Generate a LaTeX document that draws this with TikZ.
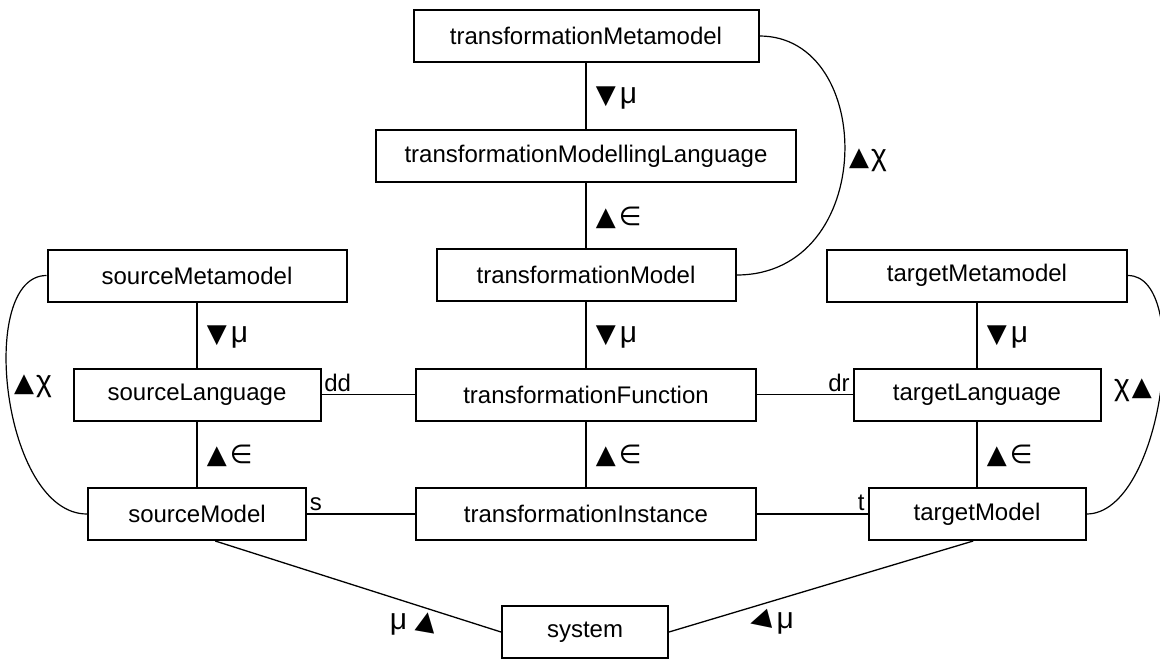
\documentclass[tikz,border=0pt]{standalone}
\usepackage{fontspec}
\setmainfont{Liberation Sans}
\newfontfamily\symfont{DejaVu Sans}
\newcommand{\triDn}{{\symfont\fontsize{26}{28}\selectfont ▼}}
\newcommand{\triUp}{{\symfont\fontsize{26}{28}\selectfont ▲}}
\newcommand{\triLt}{{\symfont\fontsize{26}{28}\selectfont ◀}}
\newcommand{\elemsym}{{\symfont\fontsize{26}{28}\selectfont ∈}}
\begin{document}
\begin{tikzpicture}[x=1pt,y=-1pt,
  box/.style={draw, line width=2pt, rectangle, inner sep=0pt, minimum height=52pt, font=\fontsize{24}{28}\selectfont},
  conn/.style={line width=1.7pt},
  diag/.style={line width=1.3pt},
  arcline/.style={line width=1.2pt},
  lab/.style={font=\fontsize{30}{34}\selectfont, inner sep=0pt},
  vlab/.style={lab, anchor=west, xshift=9pt, yshift=-2pt},
  rl/.style={font=\fontsize{24}{28}\selectfont, inner sep=2pt}
]
\useasboundingbox (0,0) rectangle (1160,659);
% nodes
\node[box, minimum width=345pt] (tMM) at (586,36) {transformationMetamodel};
\node[box, minimum width=420pt] (tML) at (586,156) {transformationModellingLanguage};
\node[box, minimum width=299pt] (tM) at (586,275) {transformationModel};
\node[box, minimum width=340pt] (tF) at (586,394.5) {transformationFunction};
\node[box, minimum width=340pt] (tI) at (586,514) {transformationInstance};
\node[box, minimum width=166pt] (sys) at (585,632) {system};
\node[box, minimum width=299pt] (sMM) at (197,275.5) {sourceMetamodel};
\node[box, minimum width=247pt] (sL) at (197,394.5) {sourceLanguage};
\node[box, minimum width=218pt] (sM) at (197,514) {sourceModel};
\node[box, minimum width=300pt] (gMM) at (977,275.5) {targetMetamodel};
\node[box, minimum width=247pt] (gL) at (977,394.5) {targetLanguage};
\node[box, minimum width=217pt] (gM) at (977,514) {targetModel};
% vertical connectors
\draw[conn] (tMM) -- node[vlab] {\triDn\kern4pt μ} (tML);
\draw[conn] (tML) -- node[vlab] {\triUp\kern3pt\elemsym} (tM);
\draw[conn] (tM) -- node[vlab] {\triDn\kern4pt μ} (tF);
\draw[conn] (tF) -- node[vlab] {\triUp\kern3pt\elemsym} (tI);
\draw[conn] (sMM) -- node[vlab] {\triDn\kern4pt μ} (sL);
\draw[conn] (sL) -- node[vlab] {\triUp\kern3pt\elemsym} (sM);
\draw[conn] (gMM) -- node[vlab] {\triDn\kern4pt μ} (gL);
\draw[conn] (gL) -- node[vlab] {\triUp\kern3pt\elemsym} (gM);
% horizontal connectors
\draw[conn] (sL.east) -- node[rl, pos=0, anchor=south west] {dd} (tF.west);
\draw[conn] (tF.east) -- node[rl, pos=1, anchor=south east] {dr} (gL.west);
\draw[conn] (sM.east) -- node[rl, pos=0, anchor=south west] {s} (tI.west);
\draw[conn] (tI.east) -- node[rl, pos=1, anchor=south east] {t} (gM.west);
% conformance curves
\draw[arcline] (tMM.east) .. controls +(117,0) and +(141,0) .. (tM.east);
\draw[arcline] (sMM.west) .. controls +(-70,0) and +(-85,0) .. (sM.west);
\draw[arcline] (gMM.east) .. controls +(65,0) and +(76,0) .. (gM.east);
\node[lab, anchor=west] (chiT) at (849,160) {\triUp\kern2pt χ};
\node[lab, anchor=west] (chiL) at (14,386) {\triUp\kern2pt χ};
\node[lab, anchor=west] (chiR) at (1114,390) {χ\kern2pt\triUp};
% system connectors
\draw[diag] (sM.-56) -- (sys.west);
\draw[diag] (gM.-98) -- (sys.east);
\node[lab] (muL) at (414,623) {μ\kern8pt\rotatebox[origin=c]{-10}{\triUp}};
\node[lab] (muR) at (771,622) {\rotatebox[origin=c]{15}{\triLt}\kern4pt μ};
\end{tikzpicture}
\end{document}
